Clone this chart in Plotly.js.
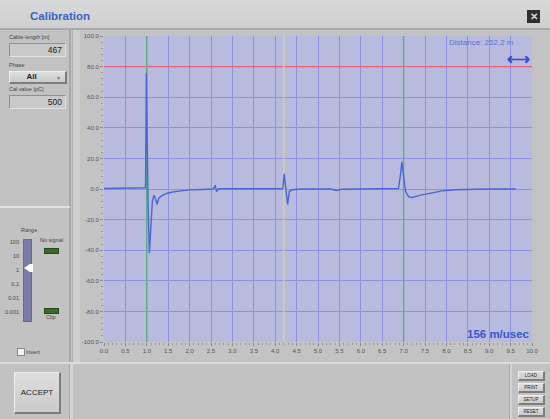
<!DOCTYPE html>
<html>
<head>
<meta charset="utf-8">
<script src="https://cdn.plot.ly/plotly-3.0.1.min.js"></script>
<style>
  html,body{margin:0;padding:0;width:550px;height:419px;overflow:hidden;background:#c3c3c3;font-family:"Liberation Sans",Arial,sans-serif;}
  .abs{position:absolute;}
  #titlebar{left:0;top:0;width:550px;height:28px;background:linear-gradient(#d9d9d9,#cfcfcf);border-bottom:2px solid #a9a9a9;}
  #title{left:30px;top:10px;font-size:11.5px;font-weight:bold;color:#3b63c6;}
  #close{left:527px;top:10px;width:13px;height:13px;background:#2f2f2f;color:#ddd;font-size:10px;line-height:13px;text-align:center;font-weight:bold;}
  .panel{background:#c2c2c2;}
  .lbl{font-size:5.5px;color:#444;white-space:nowrap;}
  .box{background:#c9c9c9;border-top:1px solid #8f8f8f;border-left:1px solid #8f8f8f;border-bottom:1px solid #e2e2e2;border-right:1px solid #e2e2e2;font-size:8.5px;color:#222;text-align:right;box-sizing:border-box;padding-right:3px;}
  .btn{background:linear-gradient(#dedede,#cbcbcb);border-top:1px solid #eee;border-left:1px solid #eee;border-bottom:2px solid #7d7d7d;border-right:2px solid #7d7d7d;box-sizing:border-box;text-align:center;color:#222;}
  #plot{left:0;top:0;width:550px;height:419px;}
</style>
</head>
<body>
<div class="abs" id="titlebar"></div>
<div class="abs" id="title">Calibration</div>
<div class="abs" id="close">✕</div>

<!-- left upper panel -->
<div class="abs panel" style="left:0;top:30px;width:69px;height:176px;border-right:2px solid #a8a8a8;border-bottom:1px solid #e0e0e0;"></div>
<div class="abs" style="left:72px;top:30px;width:7px;height:332px;background:#cfcfcf;border-left:1px solid #b3b3b3;"></div>
<div class="abs lbl" style="left:9px;top:34px;">Cable-length [m]</div>
<div class="abs box" style="left:9px;top:43px;width:57px;height:14px;line-height:12px;">467</div>
<div class="abs lbl" style="left:9px;top:62px;">Phase</div>
<div class="abs btn" style="left:9px;top:71px;width:58px;height:13px;font-size:8px;font-weight:bold;line-height:10px;padding-right:12px;">All</div>
<div class="abs" style="left:57px;top:74px;font-size:6px;color:#777;">▾</div>
<div class="abs lbl" style="left:9px;top:86px;">Cal value [pC]</div>
<div class="abs box" style="left:9px;top:95px;width:57px;height:14px;line-height:12px;">500</div>

<!-- left lower panel -->
<div class="abs panel" style="left:0;top:207px;width:69px;height:155px;border-right:2px solid #a8a8a8;border-top:1px solid #e0e0e0;"></div>
<div class="abs lbl" style="left:21px;top:227px;">Range</div>
<div class="abs" style="left:23px;top:239px;width:7px;height:81px;background:#7b7aa8;border:1px solid #6a6a90;"></div>
<div class="abs lbl" style="left:4px;top:239px;width:15px;text-align:right;">100</div>
<div class="abs lbl" style="left:4px;top:253px;width:15px;text-align:right;">10</div>
<div class="abs lbl" style="left:4px;top:267px;width:15px;text-align:right;">1</div>
<div class="abs lbl" style="left:4px;top:281px;width:15px;text-align:right;">0.1</div>
<div class="abs lbl" style="left:4px;top:295px;width:15px;text-align:right;">0.01</div>
<div class="abs lbl" style="left:2px;top:309px;width:17px;text-align:right;">0.001</div>
<div class="abs" style="left:24px;top:264px;width:0;height:0;border-top:4px solid transparent;border-bottom:4px solid transparent;border-right:6px solid #fff;"></div>
<div class="abs" style="left:29px;top:264px;width:4px;height:8px;background:#fff;"></div>
<div class="abs lbl" style="left:40px;top:237px;">No signal</div>
<div class="abs" style="left:44px;top:248px;width:13px;height:4px;background:#3a6a2a;border:1px solid #234a1a;"></div>
<div class="abs" style="left:44px;top:308px;width:13px;height:4px;background:#3a6a2a;border:1px solid #234a1a;"></div>
<div class="abs lbl" style="left:46px;top:314px;">Clip</div>
<div class="abs" style="left:17px;top:348px;width:6px;height:6px;background:#f3f3f3;border:1px solid #888;"></div>
<div class="abs lbl" style="left:26px;top:349px;">Invert</div>

<!-- bottom panel -->
<div class="abs" style="left:0;top:362px;width:550px;height:57px;background:#c2c2c2;border-top:2px solid #dcdcdc;"></div>
<div class="abs" style="left:69px;top:364px;width:3px;height:55px;background:#d2d2d2;border-left:1px solid #a9a9a9;"></div>
<div class="abs" style="left:509px;top:364px;width:2px;height:55px;background:#d2d2d2;border-left:1px solid #a9a9a9;"></div>
<div class="abs btn" style="left:14px;top:372px;width:47px;height:42px;font-size:8px;line-height:40px;">ACCEPT</div>
<div class="abs btn" style="left:518px;top:371px;width:27px;height:10px;font-size:4.5px;line-height:8px;">LOAD</div>
<div class="abs btn" style="left:518px;top:383px;width:27px;height:10px;font-size:4.5px;line-height:8px;">PRINT</div>
<div class="abs btn" style="left:518px;top:395px;width:27px;height:10px;font-size:4.5px;line-height:8px;">SETUP</div>
<div class="abs btn" style="left:518px;top:407px;width:27px;height:10px;font-size:4.5px;line-height:8px;">RESET</div>

<div class="abs" id="plot"></div>

<script>
// signal (distance axis, amplitude)
const sigX = [0.0,0.5,0.9,0.97,0.99,1.01,1.03,1.06,1.09,1.13,1.17,1.21,1.24,1.28,1.35,1.45,1.6,1.8,2.0,2.3,2.55,2.6,2.63,2.68,3.0,3.5,4.0,4.18,4.21,4.25,4.29,4.33,4.4,4.6,5.0,5.3,5.43,5.55,6.0,6.5,6.88,6.93,6.96,7.0,7.05,7.12,7.2,7.4,7.6,7.9,8.2,8.6,9.0,9.62];
const sigY = [0.3,0.4,0.6,0.8,76,30,-10,-42,-25,-8,-4,-7,-10,-6,-4.5,-3,-2,-1.2,-0.6,-0.3,0,2.3,-1.7,0.2,0.1,0.2,0.2,0.3,10,0,-10,-1.5,-0.5,0,0,0,-1,-0.2,0,0,0.3,10,17.8,8,-2,-5.2,-5.5,-4,-2.8,-1.2,-0.5,-0.2,0,0];
// cursors
const cursorX = [1.0, 4.2, 7.0];
const cursorColors = ['#4fb56f', '#dcd86a', '#4fb56f'];
const levelY = 80;
const xTicks = [0,0.5,1,1.5,2,2.5,3,3.5,4,4.5,5,5.5,6,6.5,7,7.5,8,8.5,9,9.5,10];
const yTicks = [-100,-80,-60,-40,-20,0,20,40,60,80,100];
const distanceText = 'Distance: 252.2 m';
const speedText = '156 m/usec';

const traces = [];
traces.push({x:[0,10], y:[levelY,levelY], mode:'lines', line:{color:'#e0637a', width:1.2}, hoverinfo:'skip'});
cursorX.forEach((cx,i)=>{
  traces.push({x:[cx,cx], y:[-100,100], mode:'lines', line:{color:cursorColors[i], width:1.3}, hoverinfo:'skip'});
});
traces.push({x:sigX, y:sigY, mode:'lines', line:{color:'#4a66d6', width:1.4}, hoverinfo:'skip'});

const layout = {
  width:550, height:419,
  margin:{l:104, r:18, t:36, b:77},
  paper_bgcolor:'rgba(0,0,0,0)',
  plot_bgcolor:'#b8bbdd',
  showlegend:false,
  font:{family:'"Liberation Sans", Arial, sans-serif', size:6, color:'#555'},
  xaxis:{
    range:[0,10], tickvals:xTicks, ticktext:xTicks.map(v=>v.toFixed(1)),
    showgrid:true, gridcolor:'#8f92e0', gridwidth:1, zeroline:false,
    ticks:'outside', ticklen:3, tickcolor:'#888', showline:false,
    minor:{dtick:0.1, ticks:'outside', ticklen:2, tickcolor:'#999', showgrid:false},
    tickfont:{size:6, color:'#555'}
  },
  yaxis:{
    range:[-100,100], tickvals:yTicks, ticktext:yTicks.map(v=>v.toFixed(1)),
    showgrid:true, gridcolor:'#8f92e0', gridwidth:1, zeroline:false,
    ticks:'outside', ticklen:3, tickcolor:'#888', showline:false,
    minor:{dtick:4, ticks:'outside', ticklen:2, tickcolor:'#999', showgrid:false},
    tickfont:{size:6, color:'#555'}
  },
  annotations:[
    {xref:'paper', yref:'paper', x:0.963, y:0.98, xanchor:'right', yanchor:'middle', text:distanceText, showarrow:false, font:{size:8, color:'#5b72d4'}},
    {xref:'paper', yref:'paper', x:1.0, y:0.925, xanchor:'right', yanchor:'middle', text:'<b>⟷</b>', showarrow:false, font:{size:16, color:'#2e4fd0'}},
    {xref:'paper', yref:'paper', x:1.0, y:0.025, xanchor:'right', yanchor:'middle', text:'<b>'+speedText+'</b>', showarrow:false, font:{size:11.5, color:'#3656d6'}}
  ]
};
Plotly.newPlot('plot', traces, layout, {staticPlot:true, displayModeBar:false});
</script>
</body>
</html>
